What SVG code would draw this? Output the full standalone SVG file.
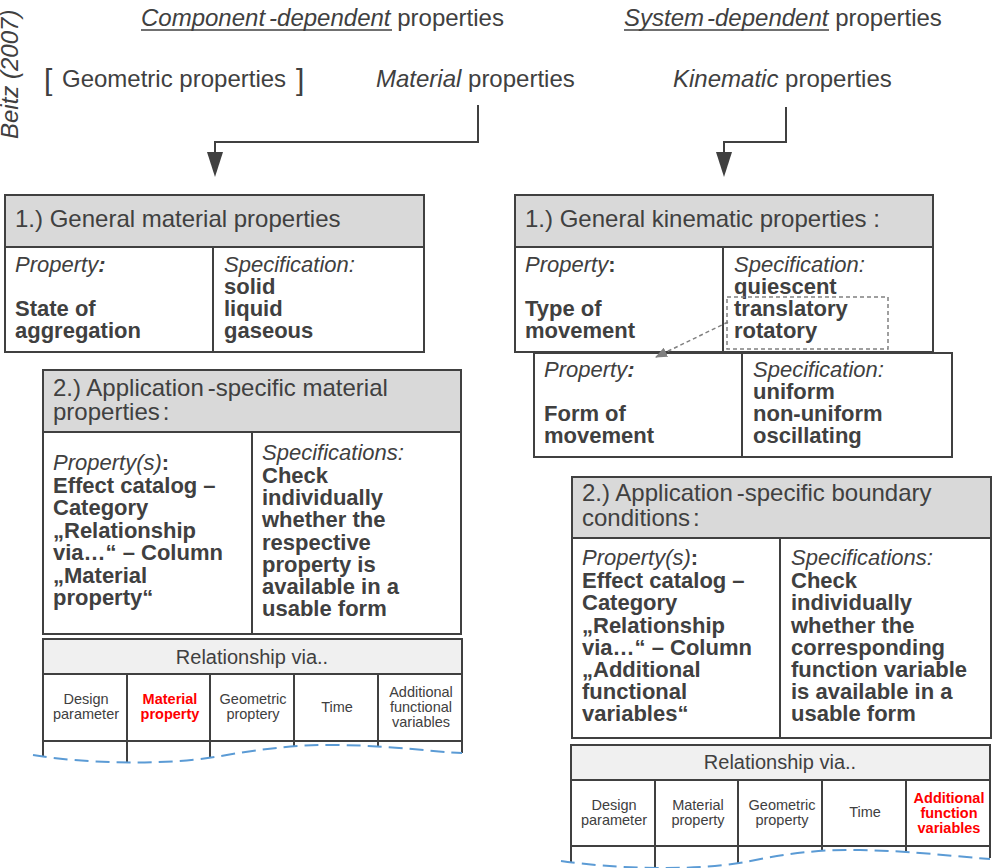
<svg xmlns="http://www.w3.org/2000/svg" width="995" height="868" viewBox="0 0 995 868">
  <defs>
    <style>
      text { font-family: "Liberation Sans", Arial, sans-serif; fill: #404040; }
      .t24 { font-size: 24px; }
      .t22 { font-size: 22px; }
      .b { font-weight: bold; }
      .i { font-style: italic; }
      .cell { font-size: 14.5px; text-anchor: middle; }
      .red { fill: #ff0000; font-weight: bold; }
      .box { fill: #ffffff; stroke: #404040; stroke-width: 2; }
      .hdr { fill: #d9d9d9; stroke: #404040; stroke-width: 2; }
      .thdr { fill: #f0f0f0; stroke: #404040; stroke-width: 2; }
      .ln { stroke: #404040; stroke-width: 2; fill: none; }
      .uline { stroke: #404040; stroke-width: 1.5; }
      .wave { stroke: #5b9bd5; stroke-width: 2; stroke-dasharray: 14 7; fill: none; }
      .conn { stroke: #404040; stroke-width: 2; fill: none; }
      .hint { stroke: #808080; stroke-width: 1.5; stroke-dasharray: 4 3; fill: none; }
    </style>
    <marker id="tri-down" markerUnits="userSpaceOnUse" markerWidth="16" markerHeight="26" refX="8" refY="1" viewBox="0 0 16 26" orient="0">
      <path d="M0,0 L16,0 L8,25 Z" fill="#404040"/>
    </marker>
    <marker id="gray-head" markerUnits="userSpaceOnUse" markerWidth="12" markerHeight="10" refX="11" refY="5" viewBox="0 0 12 10" orient="auto">
      <path d="M0,0 L12,5 L0,10 Z" fill="#808080"/>
    </marker>
  </defs>

  <!-- Source note -->
  <text class="i" font-size="24" transform="translate(18,139) rotate(-90)">Beitz (2007)</text>

  <!-- Headings -->
  <g id="heading-component">
    <text class="t24" x="141" y="26"><tspan class="i">Component<tspan dx="4">-dependent</tspan></tspan> properties</text>
    <line class="uline" x1="141" y1="30" x2="392" y2="30"/>
  </g>
  <g id="heading-system">
    <text class="t24" x="624" y="26"><tspan class="i">System<tspan dx="3">-dependent</tspan></tspan> properties</text>
    <line class="uline" x1="624" y1="30" x2="829" y2="30"/>
  </g>
  <g id="geometric">
    <text font-size="30" x="44" y="90">[</text>
    <text class="t24" x="62" y="87">Geometric properties</text>
    <text font-size="30" x="296" y="90">]</text>
  </g>
  <g id="material">
    <text class="t24" x="376" y="87"><tspan class="i">Material</tspan> properties</text>
  </g>
  <g id="kinematic">
    <text class="t24" x="673" y="87"><tspan class="i">Kinematic</tspan> properties</text>
  </g>

  <!-- Main connectors -->
  <g id="connectors">
    <path class="conn" d="M478,105 V142 H215 V153" marker-end="url(#tri-down)"/>
    <path class="conn" d="M786,107 V142 H724 V153" marker-end="url(#tri-down)"/>
  </g>

  <!-- 1.) General material properties -->
  <g id="general-material">
    <rect class="box" x="5" y="195" width="419" height="157"/>
    <rect class="hdr" x="5" y="195" width="419" height="52"/>
    <line class="ln" x1="213" y1="247" x2="213" y2="352"/>
    <text class="t24" x="15" y="227">1.) General material properties</text>
    <text class="t22" x="15" y="272"><tspan class="i">Property</tspan><tspan class="i b">:</tspan></text>
    <text class="t22 b" x="15" y="316">State of</text>
    <text class="t22 b" x="15" y="338">aggregation</text>
    <text class="t22 i" x="224" y="272">Specification:</text>
    <text class="t22 b" x="224" y="294">solid</text>
    <text class="t22 b" x="224" y="316">liquid</text>
    <text class="t22 b" x="224" y="338">gaseous</text>
  </g>

  <!-- 2.) Application-specific material properties -->
  <g id="specific-material">
    <rect class="box" x="43" y="370" width="418" height="264"/>
    <rect class="hdr" x="43" y="370" width="418" height="62"/>
    <line class="ln" x1="252" y1="432" x2="252" y2="634"/>
    <text class="t24" x="53" y="396">2.) Application<tspan dx="4">-specific material</tspan></text>
    <text class="t24" x="53" y="420">properties<tspan dx="3">:</tspan></text>
    <text class="t22" x="53" y="470"><tspan class="i">Property(s)</tspan><tspan class="b">:</tspan></text>
    <text class="t22 b" x="53" y="493">Effect catalog –</text>
    <text class="t22 b" x="53" y="515">Category</text>
    <text class="t22 b" x="53" y="538">„Relationship</text>
    <text class="t22 b" x="53" y="560">via…“ – Column</text>
    <text class="t22 b" x="53" y="583">„Material</text>
    <text class="t22 b" x="53" y="605">property“</text>
    <text class="t22 i" x="262" y="460">Specifications:</text>
    <text class="t22 b" x="262" y="483">Check</text>
    <text class="t22 b" x="262" y="505">individually</text>
    <text class="t22 b" x="262" y="527">whether the</text>
    <text class="t22 b" x="262" y="550">respective</text>
    <text class="t22 b" x="262" y="572">property is</text>
    <text class="t22 b" x="262" y="594">available in a</text>
    <text class="t22 b" x="262" y="616">usable form</text>
  </g>

  <!-- Relationship table (material) -->
  <g id="relation-material">
    <rect class="box" x="43" y="639" width="419" height="102"/>
    <rect class="thdr" x="43" y="639" width="419" height="35"/>
    <text x="252" y="664" font-size="20" text-anchor="middle">Relationship via..</text>
    <line class="ln" x1="43" y1="674" x2="43" y2="757"/>
    <line class="ln" x1="127" y1="674" x2="127" y2="763"/>
    <line class="ln" x1="210" y1="674" x2="210" y2="758"/>
    <line class="ln" x1="294" y1="674" x2="294" y2="746"/>
    <line class="ln" x1="378" y1="674" x2="378" y2="746"/>
    <line class="ln" x1="462" y1="674" x2="462" y2="753"/>
    <text class="cell" x="86" y="704">Design</text>
    <text class="cell" x="86" y="719">parameter</text>
    <text class="cell red" x="170" y="704">Material</text>
    <text class="cell red" x="170" y="719">property</text>
    <text class="cell" x="253" y="704">Geometric</text>
    <text class="cell" x="253" y="719">proptery</text>
    <text class="cell" x="337" y="712">Time</text>
    <text class="cell" x="421" y="697">Additional</text>
    <text class="cell" x="421" y="712">functional</text>
    <text class="cell" x="421" y="727">variables</text>
    <path class="wave" d="M33,755 C80,763 160,766 215,757 C255,750 295,744 340,745 C395,746 435,752 462,753"/>
  </g>

  <!-- 1.) General kinematic properties -->
  <g id="general-kinematic">
    <rect class="box" x="515" y="195" width="418" height="157"/>
    <rect class="hdr" x="515" y="195" width="418" height="52"/>
    <line class="ln" x1="723" y1="247" x2="723" y2="352"/>
    <text class="t24" x="525" y="227">1.) General kinematic properties :</text>
    <text class="t22" x="525" y="272"><tspan class="i">Property</tspan><tspan class="b">:</tspan></text>
    <text class="t22 b" x="525" y="316">Type of</text>
    <text class="t22 b" x="525" y="338">movement</text>
    <text class="t22 i" x="734" y="272">Specification:</text>
    <text class="t22 b" x="734" y="294">quiescent</text>
    <text class="t22 b" x="734" y="316">translatory</text>
    <text class="t22 b" x="734" y="338">rotatory</text>
    <rect class="hint" x="727" y="297" width="161" height="52"/>
  </g>

  <!-- Form of movement -->
  <g id="form-of-movement">
    <rect class="box" x="534" y="353" width="418" height="104"/>
    <line class="ln" x1="742" y1="353" x2="742" y2="457"/>
    <text class="t22" x="544" y="377"><tspan class="i">Property</tspan><tspan class="i b">:</tspan></text>
    <text class="t22 b" x="544" y="421">Form of</text>
    <text class="t22 b" x="544" y="443">movement</text>
    <text class="t22 i" x="753" y="377">Specification:</text>
    <text class="t22 b" x="753" y="399">uniform</text>
    <text class="t22 b" x="753" y="421">non-uniform</text>
    <text class="t22 b" x="753" y="443">oscillating</text>
  </g>

  <!-- Dashed pointer from the selected specifications to the sub-property -->
  <g id="connector-hint">
    <path class="hint" d="M728,322 L656,357" marker-end="url(#gray-head)"/>
  </g>

  <!-- 2.) Application-specific boundary conditions -->
  <g id="specific-boundary">
    <rect class="box" x="572" y="477" width="419" height="261"/>
    <rect class="hdr" x="572" y="477" width="419" height="61"/>
    <line class="ln" x1="780" y1="538" x2="780" y2="738"/>
    <text class="t24" x="582" y="501">2.) Application<tspan dx="4">-specific boundary</tspan></text>
    <text class="t24" x="582" y="526">conditions<tspan dx="3">:</tspan></text>
    <text class="t22" x="582" y="565"><tspan class="i">Property(s)</tspan><tspan class="b">:</tspan></text>
    <text class="t22 b" x="582" y="588">Effect catalog –</text>
    <text class="t22 b" x="582" y="610">Category</text>
    <text class="t22 b" x="582" y="633">„Relationship</text>
    <text class="t22 b" x="582" y="655">via…“ – Column</text>
    <text class="t22 b" x="582" y="677">„Additional</text>
    <text class="t22 b" x="582" y="699">functional</text>
    <text class="t22 b" x="582" y="721">variables“</text>
    <text class="t22 i" x="791" y="565">Specifications:</text>
    <text class="t22 b" x="791" y="588">Check</text>
    <text class="t22 b" x="791" y="610">individually</text>
    <text class="t22 b" x="791" y="633">whether the</text>
    <text class="t22 b" x="791" y="655">corresponding</text>
    <text class="t22 b" x="791" y="677">function variable</text>
    <text class="t22 b" x="791" y="699">is available in a</text>
    <text class="t22 b" x="791" y="721">usable form</text>
  </g>

  <!-- Relationship table (boundary) -->
  <g id="relation-boundary">
    <rect class="box" x="571" y="745" width="419" height="101"/>
    <rect class="thdr" x="571" y="745" width="419" height="35"/>
    <text x="780" y="769" font-size="20" text-anchor="middle">Relationship via..</text>
    <line class="ln" x1="571" y1="780" x2="571" y2="863"/>
    <line class="ln" x1="655" y1="780" x2="655" y2="868"/>
    <line class="ln" x1="738" y1="780" x2="738" y2="863"/>
    <line class="ln" x1="822" y1="780" x2="822" y2="850"/>
    <line class="ln" x1="906" y1="780" x2="906" y2="852"/>
    <line class="ln" x1="990" y1="780" x2="990" y2="858"/>
    <text class="cell" x="614" y="810">Design</text>
    <text class="cell" x="614" y="825">parameter</text>
    <text class="cell" x="698" y="810">Material</text>
    <text class="cell" x="698" y="825">property</text>
    <text class="cell" x="782" y="810">Geometric</text>
    <text class="cell" x="782" y="825">property</text>
    <text class="cell" x="865" y="817">Time</text>
    <text class="cell red" x="949" y="803">Additional</text>
    <text class="cell red" x="949" y="818">function</text>
    <text class="cell red" x="949" y="833">variables</text>
    <path class="wave" d="M561,861 C610,868 690,872 745,862 C780,855 815,849 860,850 C915,851 960,857 990,859"/>
  </g>
</svg>
